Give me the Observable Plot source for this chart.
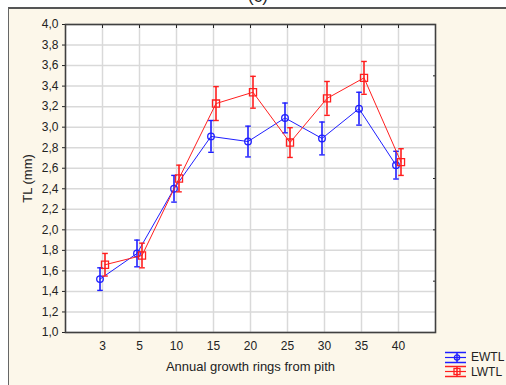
<!DOCTYPE html>
<html>
<head>
<meta charset="utf-8">
<script src="https://cdn.jsdelivr.net/npm/d3@7"></script>
<script src="https://cdn.jsdelivr.net/npm/@observablehq/plot@0.6"></script>
<style>
  html, body { margin:0; padding:0; background:#fff; }
  #wrap { position:relative; width:506px; height:385px; overflow:hidden; background:#fff; font-family:"Liberation Sans", Arial, sans-serif; }
  #panel { position:absolute; left:8px; top:7px; right:0; bottom:0; background:#fcf7ea; border-left:1px solid #666; border-top:2px solid #555; }
  #title { position:absolute; left:0; width:516px; text-align:center; top:-13px; font-size:17px; color:#222; }
  #chart { position:absolute; left:0; top:0; }
  #legend { position:absolute; left:445px; top:350px; font-size:12px; color:#222; line-height:14.5px; }
  .li { display:flex; align-items:center; height:14.5px; }
  .li svg { margin-right:4px; }
</style>
</head>
<body>
<div id="wrap">
  <div id="panel"></div>
  <div id="title">(c)</div>
  <div id="chart"></div>
  <div id="legend"></div>
</div>
<script>
const rings = ["3", "5", "10", "15", "20", "25", "30", "35", "40"];
const ewtl = [1.52, 1.77, 2.40, 2.91, 2.86, 3.09, 2.89, 3.18, 2.63];
const ewtlErr = [0.11, 0.13, 0.13, 0.155, 0.15, 0.145, 0.16, 0.16, 0.135];
const lwtl = [1.66, 1.75, 2.50, 3.23, 3.34, 2.85, 3.28, 3.48, 2.66];
const lwtlErr = [0.11, 0.12, 0.13, 0.165, 0.155, 0.145, 0.165, 0.16, 0.13];
const yTicks = [1.0, 1.2, 1.4, 1.6, 1.8, 2.0, 2.2, 2.4, 2.6, 2.8, 3.0, 3.2, 3.4, 3.6, 3.8, 4.0];
const yMajor = [1.5, 2.0, 2.5, 3.0, 3.5];
const seriesNames = ["EWTL", "LWTL"];
const seriesColors = ["#1f1fff", "#ff1f1f"];

const rows = [];
rings.forEach((r, i) => {
  rows.push({ring: r, series: "EWTL", v: ewtl[i], lo: ewtl[i] - ewtlErr[i], hi: ewtl[i] + ewtlErr[i]});
  rows.push({ring: r, series: "LWTL", v: lwtl[i], lo: lwtl[i] - lwtlErr[i], hi: lwtl[i] + lwtlErr[i]});
});

const cap = {
  draw(ctx, size) {
    const w = Math.sqrt(size / Math.PI);
    ctx.moveTo(-w, 0);
    ctx.lineTo(w, 0);
  }
};

function seriesMarks(name, color, dx, symbol, r) {
  const d = rows.filter(o => o.series === name);
  return [
    Plot.line(d, {x: "ring", y: "v", stroke: color, strokeWidth: 1, dx}),
    Plot.ruleX(d, {x: "ring", y1: "lo", y2: "hi", stroke: color, strokeWidth: 1.6, dx}),
    Plot.dot(d, {x: "ring", y: "hi", symbol: cap, r: 2.8, stroke: color, strokeWidth: 1.4, dx}),
    Plot.dot(d, {x: "ring", y: "lo", symbol: cap, r: 2.8, stroke: color, strokeWidth: 1.4, dx}),
    Plot.dot(d, {x: "ring", y: "v", symbol, r, stroke: color, strokeWidth: 1.3, fill: "none", dx})
  ];
}

const chart = Plot.plot({
  width: 506,
  height: 385,
  marginLeft: 65,
  marginRight: 71,
  marginTop: 24,
  marginBottom: 53,
  style: {background: "transparent", fontFamily: "'Liberation Sans', Arial, sans-serif", fontSize: "12px", color: "#222", overflow: "visible"},
  x: {type: "point", domain: rings, padding: 1, label: null},
  y: {domain: [1, 4], label: null},
  marks: [
    Plot.frame({fill: "white"}),
    Plot.gridX({stroke: "#d9d9d9", strokeOpacity: 1, strokeWidth: 1.5}),
    Plot.gridY(yTicks, {stroke: "#d9d9d9", strokeOpacity: 1, strokeWidth: 1.5}),
    Plot.axisY(yTicks, {anchor: "left", tickSize: 3, tickPadding: 4, tickFormat: d => d.toFixed(1).replace(".", ","), label: "TL (mm)", labelAnchor: "center", labelArrow: "none", labelOffset: 43, fontSize: 12}),
    Plot.axisY(yMajor, {anchor: "right", tickSize: -3, tickFormat: () => "", label: null}),
    Plot.axisX({anchor: "bottom", tickSize: 0, tickPadding: 9, label: "Annual growth rings from pith", labelAnchor: "center", labelArrow: "none", labelOffset: 38, fontSize: 12}),
    Plot.axisX({anchor: "top", tickSize: -3, tickFormat: () => "", label: null}),
    ...seriesMarks("EWTL", seriesColors[0], -2.5, "circle", 3.3),
    ...seriesMarks("LWTL", seriesColors[1], 2.5, "square", 4),
    Plot.frame({stroke: "#404040", strokeWidth: 1.6})
  ]
});
document.getElementById("chart").appendChild(chart);

// axis titles slightly larger than tick labels
chart.querySelectorAll("g[aria-label='y-axis label'] text, g[aria-label='x-axis label'] text").forEach(t => t.setAttribute("font-size", "13"));

// legend
const leg = document.getElementById("legend");
seriesNames.forEach((n, i) => {
  const c = seriesColors[i];
  const sym = i === 0
    ? `<circle cx="12" cy="6.5" r="2.6" fill="none" stroke="${c}" stroke-width="1.3"/>`
    : `<rect x="9" y="3.5" width="6" height="6" fill="none" stroke="${c}" stroke-width="1.3"/>`;
  leg.insertAdjacentHTML("beforeend",
    `<div class="li"><svg width="22" height="13">
      <line x1="0" x2="21" y1="1.5" y2="1.5" stroke="${c}" stroke-width="1.5"/>
      <line x1="0" x2="21" y1="6.5" y2="6.5" stroke="${c}" stroke-width="1.2"/>
      <line x1="0" x2="21" y1="11.5" y2="11.5" stroke="${c}" stroke-width="1.5"/>
      <line x1="12" x2="12" y1="1.5" y2="11.5" stroke="${c}" stroke-width="1.5"/>
      ${sym}
    </svg><span>${n}</span></div>`);
});
</script>
</body>
</html>
